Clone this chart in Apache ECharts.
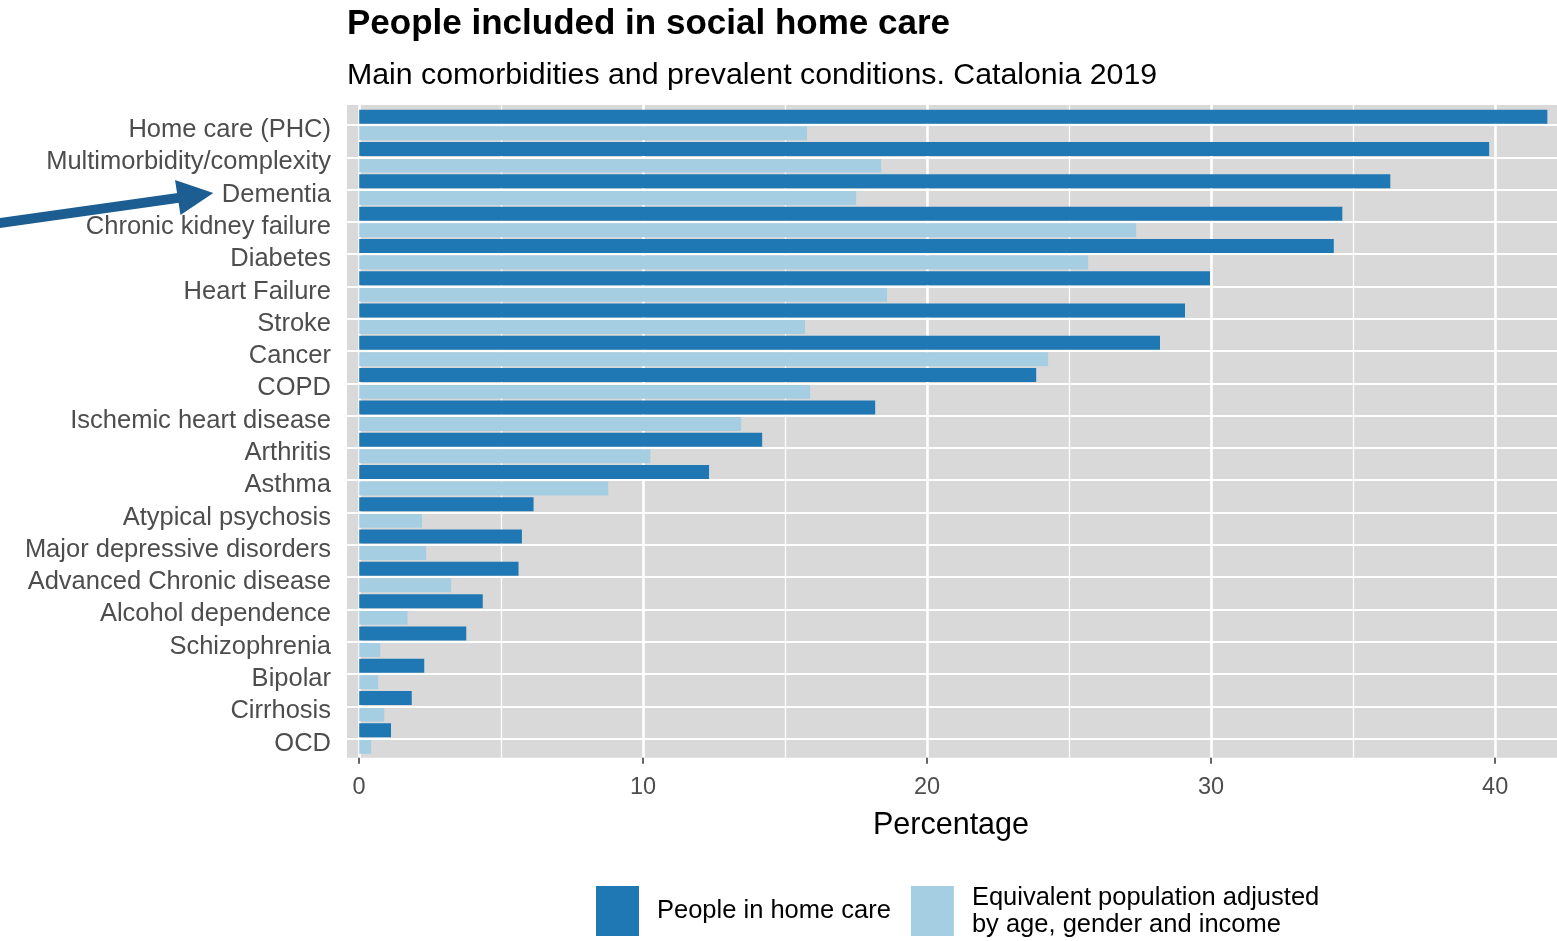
<!DOCTYPE html>
<html>
<head>
<meta charset="utf-8">
<script src="https://cdn.jsdelivr.net/npm/echarts@6/dist/echarts.min.js"></script>
<style>
  html, body { margin: 0; padding: 0; background: #fff; }
  #chart { width: 1557px; height: 941px; }
</style>
</head>
<body>
<div id="chart"></div>
<script>
const categories = [
  'Home care (PHC)', 'Multimorbidity/complexity', 'Dementia', 'Chronic kidney failure',
  'Diabetes', 'Heart Failure', 'Stroke', 'Cancer', 'COPD', 'Ischemic heart disease',
  'Arthritis', 'Asthma', 'Atypical psychosis', 'Major depressive disorders',
  'Advanced Chronic disease', 'Alcohol dependence', 'Schizophrenia', 'Bipolar',
  'Cirrhosis', 'OCD'
]
const homeCare = [41.84, 39.79, 36.31, 34.62, 34.32, 29.96, 29.08, 28.2, 23.84, 18.17,
  14.19, 12.32, 6.14, 5.73, 5.61, 4.35, 3.77, 2.29, 1.85, 1.12]
const equivalent = [15.77, 18.38, 17.5, 27.36, 25.67, 18.59, 15.7, 24.26, 15.88, 13.45,
  10.25, 8.77, 2.21, 2.36, 3.24, 1.7, 0.74, 0.67, 0.88, 0.42]
const seriesNames = ['People in home care', 'Equivalent population adjusted\nby age, gender and income']

const font = 'Liberation Sans, Arial, sans-serif'
const chart = echarts.init(document.getElementById('chart'))

chart.setOption({
  backgroundColor: '#fff',
  animation: false,
  textStyle: { fontFamily: font },
  title: [
    {
      text: 'People included in social home care',
      left: 347, top: 7, padding: 0,
      textStyle: { fontSize: 35, fontWeight: 'bold', color: '#000', lineHeight: 35, fontFamily: font }
    },
    {
      text: 'Main comorbidities and prevalent conditions. Catalonia 2019',
      left: 347, top: 61, padding: 0,
      textStyle: { fontSize: 30.3, fontWeight: 'normal', color: '#000', lineHeight: 30, fontFamily: font }
    }
  ],
  graphic: [
    {
      type: 'rect', z: -10, silent: true,
      shape: { x: 347, y: 105, width: 1220, height: 652.7 },
      style: { fill: '#d9d9d9' }
    },
    {
      type: 'polyline', z: 10, silent: true,
      shape: { points: [[-10, 224.4], [182, 197.4]] },
      style: { stroke: '#1c5e91', lineWidth: 10, fill: null }
    },
    {
      type: 'polygon', z: 10, silent: true,
      shape: { points: [[213.3, 193], [175, 180], [180.5, 215]] },
      style: { fill: '#1c5e91' }
    }
  ],
  legend: {
    data: seriesNames,
    left: 596, top: 884, padding: 0,
    itemWidth: 43, itemHeight: 50, itemGap: 20,
    icon: 'rect',
    selectedMode: false,
    textStyle: { fontSize: 25.5, lineHeight: 27, color: '#000', padding: [0, 0, 0, 13], fontFamily: font }
  },
  grid: [
    { left: 347, right: 0, top: 108.9, height: 645.8, outerBoundsMode: 'none' },
    { left: 359, width: 1208, top: 105, height: 652.7, outerBoundsMode: 'none' }
  ],
  xAxis: [
    { gridIndex: 0, type: 'value', min: -0.43, max: 42.18, show: false },
    {
      gridIndex: 1, type: 'value', min: 0, max: 42.53, interval: 10, position: 'bottom',
      axisLine: { show: false },
      axisTick: { show: true, length: 6, lineStyle: { color: '#333', width: 1.5 } },
      axisLabel: { color: '#4d4d4d', fontSize: 23.5, margin: 18, showMaxLabel: false, fontFamily: font },
      splitLine: { show: true, lineStyle: { color: '#fff', width: 2.5 } },
      name: 'Percentage', nameLocation: 'middle', nameGap: 52,
      nameTextStyle: { fontSize: 30.5, color: '#000', padding: [0, 24, 0, 0], fontFamily: font }
    },
    {
      gridIndex: 1, type: 'value', min: 0, max: 42.53, interval: 5, position: 'bottom',
      axisLine: { show: false }, axisTick: { show: false }, axisLabel: { show: false },
      splitLine: { show: true, lineStyle: { color: '#fff', width: 1.3 } }
    }
  ],
  yAxis: [
    {
      gridIndex: 0, type: 'category', data: categories, inverse: true,
      axisLine: { show: false },
      axisTick: { show: true, alignWithLabel: true, length: 6, lineStyle: { color: '#333', width: 1.5 } },
      axisLabel: {
        color: '#4d4d4d', fontSize: 25.5, margin: 16, interval: 0, hideOverlap: false,
        verticalAlign: 'top', lineHeight: 10, fontFamily: font
      },
      splitLine: { show: false }
    },
    { gridIndex: 1, type: 'value', show: false, splitLine: { show: false } }
  ],
  series: [
    {
      type: 'line', xAxisIndex: 0, yAxisIndex: 0, data: [], z: 1, silent: true,
      markLine: {
        silent: true, symbol: 'none', label: { show: false },
        lineStyle: { color: '#fff', width: 2, type: 'solid' },
        data: categories.map(c => ({ yAxis: c }))
      }
    },
    {
      name: seriesNames[0], type: 'bar', xAxisIndex: 0, yAxisIndex: 0,
      data: homeCare, barWidth: 14, barGap: '18%', z: 3,
      itemStyle: { color: '#1f78b4' }
    },
    {
      name: seriesNames[1], type: 'bar', xAxisIndex: 0, yAxisIndex: 0,
      data: equivalent, barWidth: 14, barGap: '18%', z: 3,
      itemStyle: { color: '#a6cee3' }
    }
  ]
})

window.addEventListener('resize', () => chart.resize())
</script>
</body>
</html>
